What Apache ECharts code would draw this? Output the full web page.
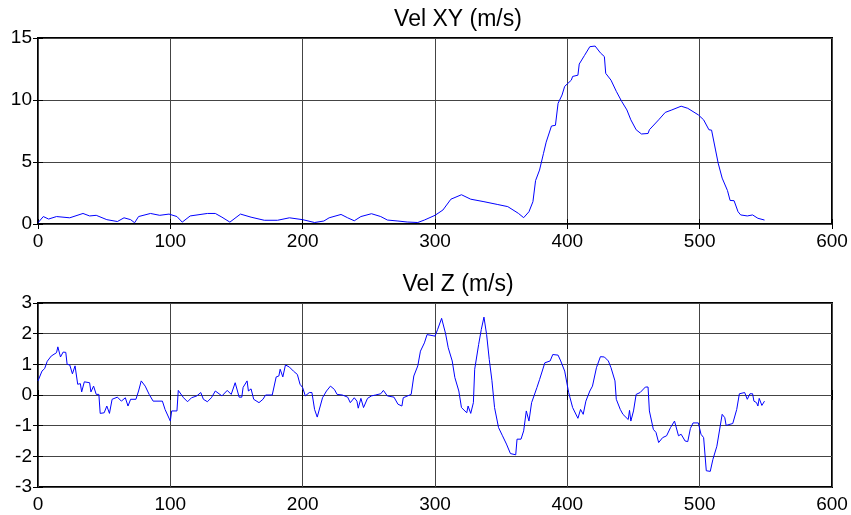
<!DOCTYPE html>
<html>
<head>
<meta charset="utf-8">
<script src="https://cdn.jsdelivr.net/npm/echarts@6/dist/echarts.min.js"></script>
<style>
  html, body { margin: 0; padding: 0; background: #fff; }
  #main { width: 851px; height: 515px; }
</style>
</head>
<body>
<div id="main"></div>
<script>
// Vel XY samples (time index, m/s)
var xyT = [0, 4, 8, 14, 24, 34, 39, 44, 52, 60, 65, 70, 73, 76, 85, 92, 99, 105, 109, 115, 128, 134, 139, 145, 153, 161, 171, 181, 190,
  200, 209, 216, 220, 229, 234, 239, 244, 252, 259, 264, 272, 279, 287, 292, 300, 306, 312, 320, 327, 337, 347, 355, 363, 367, 371,
  374, 376, 379, 382, 384, 388, 391, 393, 396, 398, 403, 404, 408, 409, 413, 417, 421, 425, 428, 429, 433, 437, 441, 445, 448, 452,
  456, 461, 462, 469, 474, 479, 486, 491, 499, 503, 507, 509, 512, 514, 517, 521, 523, 526, 529, 531, 536, 540, 544, 549];
var xyV = [0.1, 0.6, 0.4, 0.6, 0.5, 0.85, 0.65, 0.7, 0.35, 0.2, 0.5, 0.35, 0.1, 0.6, 0.85, 0.7, 0.8, 0.6, 0.15, 0.65, 0.85, 0.85, 0.55, 0.15, 0.8, 0.55, 0.3, 0.3, 0.5,
  0.35, 0.12, 0.24, 0.5, 0.77, 0.5, 0.26, 0.6, 0.83, 0.6, 0.32, 0.24, 0.16, 0.12, 0.32, 0.7, 1.13, 2.0, 2.36, 2.0, 1.8, 1.58, 1.4, 0.86, 0.51, 0.99,
  1.8, 3.5, 4.35, 5.7, 6.6, 7.9, 7.96, 9.73, 10.4, 11.1, 11.6, 11.9, 12.0, 12.9, 13.6, 14.3, 14.35, 13.8, 13.5, 12.15, 11.6, 10.7, 9.9, 9.2, 8.4, 7.6,
  7.26, 7.3, 7.6, 8.4, 9.0, 9.2, 9.5, 9.33, 8.8, 8.4, 7.6, 7.57, 5.97, 4.9, 3.7, 2.7, 1.9, 1.88, 0.99, 0.73, 0.65, 0.73, 0.46, 0.32];

// Vel Z samples (time index, m/s)
var zT = [0, 3, 5, 7, 10, 14, 15, 17, 19, 21, 22, 24, 26, 28, 30, 32, 33, 35, 39, 40, 42, 44, 46, 47, 50, 52, 54, 56, 60, 63, 66, 68, 70, 74,
  76, 78, 81, 84, 87, 94, 96, 100, 101, 105, 106, 110, 113, 116, 120, 123, 125, 128, 131, 134, 139, 143, 146, 149, 152, 154, 155, 158,
  159, 161, 163, 167, 170, 172, 177, 180, 182, 183, 185, 187, 190, 193, 196, 198, 200, 202, 205, 207, 209, 211, 212, 215, 218, 221,
  224, 226, 230, 234, 236, 239, 241, 242, 244, 246, 249, 252, 255, 259, 261, 264, 269, 272, 275, 276, 282, 284, 287, 289, 292, 294,
  300, 302, 305, 306, 308, 310, 313, 315, 318, 320, 324, 325, 327, 329, 330, 333, 335, 337, 339, 341, 343, 345, 348, 351, 354, 357,
  361, 362, 365, 367, 369, 371, 373, 377, 379, 383, 387, 389, 393, 395, 398, 401, 404, 408, 410, 412, 414, 417, 419, 422, 425, 428,
  431, 433, 436, 437, 440, 442, 446, 447, 448, 450, 452, 455, 459, 461, 462, 465, 467, 469, 472, 475, 478, 481, 484, 486, 489, 491,
  493, 495, 499, 501, 503, 505, 508, 510, 513, 514, 517, 519, 520, 525, 528, 530, 534, 536, 538, 540, 541, 543, 544, 545, 547, 549];
var zV = [0.46, 0.78, 0.86, 1.1, 1.27, 1.38, 1.57, 1.24, 1.4, 1.39, 1.0, 0.98, 0.69, 0.95, 0.35, 0.37, 0.1, 0.43, 0.4, 0.1, 0.29, 0.02, 0.02, -0.6, -0.58, -0.36, -0.6, -0.14, -0.07, -0.2, -0.09, -0.36, -0.14, -0.14,
  0.13, 0.46, 0.29, 0.02, -0.2, -0.2, -0.47, -0.85, -0.52, -0.52, 0.15, -0.09, -0.22, -0.09, -0.03, 0.08, -0.14, -0.22, -0.09, 0.13, -0.03, 0.15, 0.02, 0.4, -0.07, -0.07, 0.25, 0.46,
  0.13, 0.2, -0.14, -0.25, -0.14, 0, 0, 0.59, 0.62, 0.84, 0.59, 0.98, 0.91, 0.78, 0.67, 0.35, 0.24, -0.03, 0.08, 0.08, -0.47, -0.72, -0.68, -0.09, 0.13, 0.29,
  0.18, 0.02, 0, -0.07, -0.25, -0.09, -0.2, -0.43, -0.11, -0.41, -0.11, -0.03, 0, 0.04, 0.15, -0.03, -0.07, -0.3, -0.36, -0.09, 0.02, 0.62, 0.95, 1.43, 1.7, 1.97,
  1.92, 2.14, 2.5, 2.5, 2.0, 1.54, 1.11, 0.57, 0.13, -0.41, -0.58, -0.36, -0.6, -0.25, 0.84, 1.65, 2.14, 2.54, 1.97, 1.16, 0.48, -0.41, -1.06, -1.33, -1.6, -1.91,
  -1.95, -1.44, -1.44, -1.17, -0.52, -0.85, -0.25, 0.24, 0.5, 1.05, 1.11, 1.32, 1.3, 1.11, 0.78, 0.08, -0.41, -0.76, -0.47, -0.63, -0.2, 0.13, 0.29, 0.89, 1.25, 1.24,
  1.11, 0.89, 0.46, -0.14, -0.47, -0.63, -0.8, -0.5, -0.85, -0.52, 0.02, 0.08, 0.26, 0.26, -0.52, -1.12, -1.22, -1.55, -1.39, -1.33, -1.06, -0.85, -1.33, -1.28, -1.5, -1.52,
  -1.09, -0.91, -0.91, -1.28, -1.39, -2.47, -2.49, -2.1, -1.67, -1.61, -0.63, -0.74, -0.99, -0.93, -0.47, 0.04, 0.08, -0.14, 0.04, 0.04, -0.2, -0.25, -0.36, -0.11, -0.34, -0.2];

var xTicks = [0, 100, 200, 300, 400, 500, 600];
var xyTicks = [0, 5, 10, 15];
var zTicks = [-3, -2, -1, 0, 1, 2, 3];

function pairs(t, v) {
  return t.map(function (x, i) { return [x, v[i]]; });
}

var font = "Liberation Sans, Arial, sans-serif";

function xAxisFor(gi, pos) {
  return {
    type: "value", gridIndex: gi, position: pos,
    min: xTicks[0], max: xTicks[xTicks.length - 1], interval: 100,
    axisLine: { show: false },
    axisTick: { show: true, inside: true, length: 5, lineStyle: { color: "#000" } },
    axisLabel: { show: pos === "bottom", margin: 8, color: "#000", fontSize: 19, fontFamily: font },
    splitLine: { show: pos === "bottom", lineStyle: { color: "#444", width: 1 } }
  };
}

function yAxisFor(gi, pos, ticks) {
  return {
    type: "value", gridIndex: gi, position: pos,
    min: ticks[0], max: ticks[ticks.length - 1], interval: ticks[1] - ticks[0],
    axisLine: { show: false },
    axisTick: { show: true, inside: true, length: 5, lineStyle: { color: "#000" } },
    axisLabel: { show: pos === "left", margin: 6, color: "#000", fontSize: 19, fontFamily: font },
    splitLine: { show: pos === "left", lineStyle: { color: "#444", width: 1 } }
  };
}

var chart = echarts.init(document.getElementById("main"));
chart.setOption({
  animation: false,
  title: [
    { text: "Vel XY (m/s)", left: 458, top: 8, textAlign: "center", padding: 0,
      textStyle: { fontSize: 23, fontWeight: "normal", color: "#000", fontFamily: font } },
    { text: "Vel Z (m/s)", left: 458, top: 273, textAlign: "center", padding: 0,
      textStyle: { fontSize: 23, fontWeight: "normal", color: "#000", fontFamily: font } }
  ],
  grid: [
    { left: 38, top: 38, width: 794, height: 186, show: true, borderColor: "#000", borderWidth: 2 },
    { left: 38, top: 303, width: 794, height: 184, show: true, borderColor: "#000", borderWidth: 2 }
  ],
  xAxis: [xAxisFor(0, "bottom"), xAxisFor(0, "top"), xAxisFor(1, "bottom"), xAxisFor(1, "top")],
  yAxis: [yAxisFor(0, "left", xyTicks), yAxisFor(0, "right", xyTicks), yAxisFor(1, "left", zTicks), yAxisFor(1, "right", zTicks)],
  series: [
    { type: "line", xAxisIndex: 0, yAxisIndex: 0, data: pairs(xyT, xyV), showSymbol: false,
      lineStyle: { color: "#0000ff", width: 1 }, itemStyle: { color: "#0000ff" } },
    { type: "line", xAxisIndex: 2, yAxisIndex: 2, data: pairs(zT, zV), showSymbol: false,
      lineStyle: { color: "#0000ff", width: 1 }, itemStyle: { color: "#0000ff" } }
  ]
});
</script>
</body>
</html>
